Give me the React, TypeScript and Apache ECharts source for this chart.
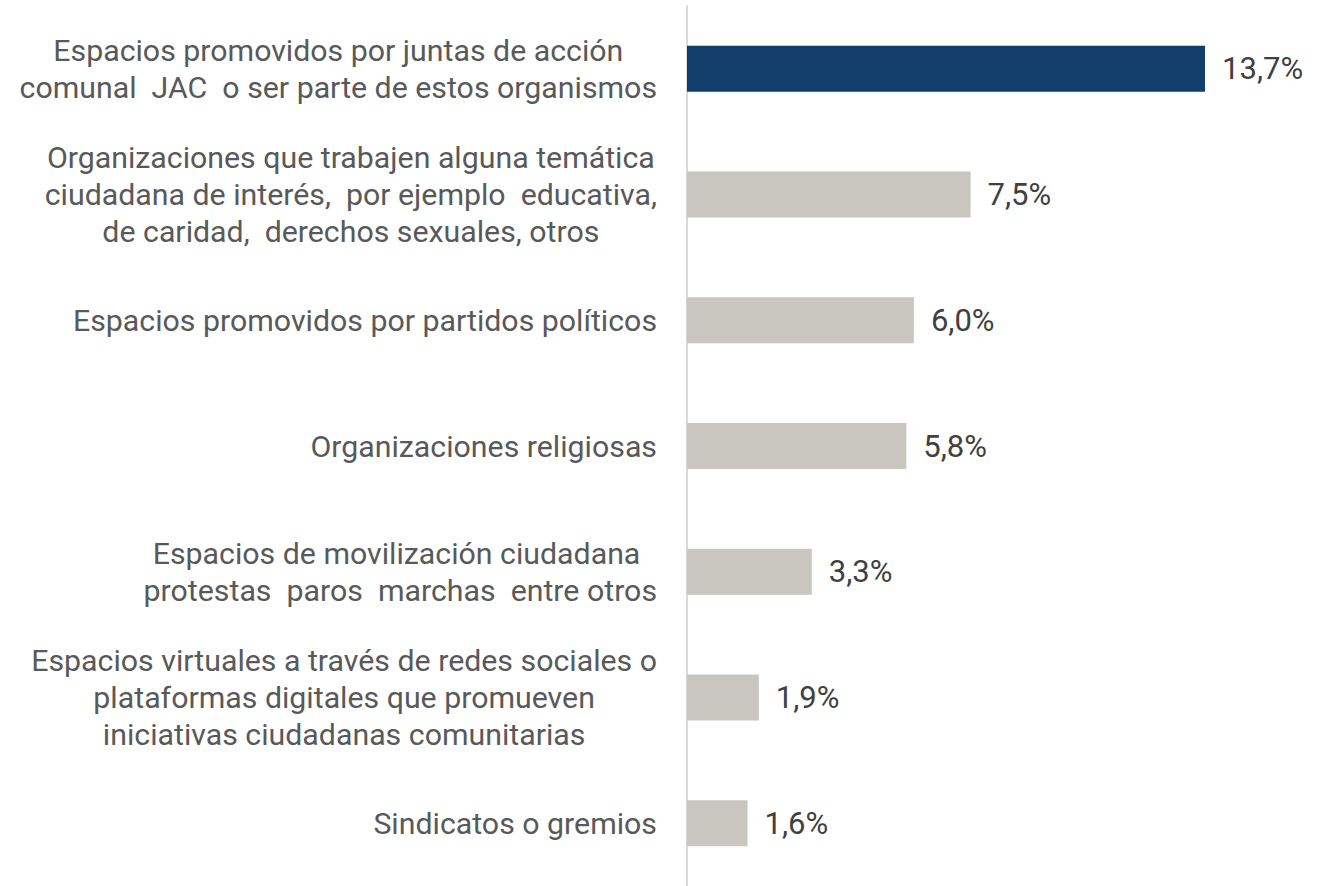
import React, { useEffect, useRef } from "react";
import * as echarts from "echarts";

const categories: string[] = [
  "Espacios promovidos por juntas de acción\ncomunal  JAC  o ser parte de estos organismos",
  "Organizaciones que trabajen alguna temática\nciudadana de interés,  por ejemplo  educativa,\nde caridad,  derechos sexuales, otros",
  "Espacios promovidos por partidos políticos",
  "Organizaciones religiosas",
  "Espacios de movilización ciudadana \nprotestas  paros  marchas  entre otros",
  "Espacios virtuales a través de redes sociales o\nplataformas digitales que promueven\niniciativas ciudadanas comunitarias",
  "Sindicatos o gremios",
];

const values: number[] = [13.7, 7.5, 6.0, 5.8, 3.3, 1.9, 1.6];

const NAVY = "#123E6C";
const GRAY = "#C9C6BF";
const FONT = "Roboto";
const LABEL_SIZE = 30.3;

export default function App() {
  const ref = useRef<HTMLDivElement>(null);

  useEffect(() => {
    if (!ref.current) return;
    const chart = echarts.init(ref.current, null, { renderer: "svg" });
    const maxVal = Math.max(...values);
    chart.setOption({
      animation: false,
      backgroundColor: "#ffffff",
      grid: { left: 687, top: 6, width: 605, height: 882, containLabel: false },
      xAxis: {
        type: "value",
        min: 0,
        max: 16,
        show: false,
        splitLine: { show: false },
      },
      yAxis: {
        type: "category",
        inverse: true,
        data: categories,
        axisLine: { show: true, lineStyle: { color: "#D9D9D9", width: 2 } },
        axisTick: { show: false },
        splitLine: { show: false },
        axisLabel: {
          margin: 30,
          align: "right",
          fontFamily: FONT,
          fontSize: LABEL_SIZE,
          lineHeight: 37,
          color: "#595959",
          formatter: (v: string) =>
            v
              .split("\n")
              .map((line) => `{c|${line}}`)
              .join("\n"),
          rich: {
            c: {
              align: "center",
              fontFamily: FONT,
              fontSize: LABEL_SIZE,
              lineHeight: 37,
              color: "#595959",
            },
          },
        },
      },
      series: [
        {
          type: "bar",
          data: values,
          barWidth: 46,
          itemStyle: {
            color: (p: any) => (p.value === maxVal ? NAVY : GRAY),
          },
          label: {
            show: true,
            position: "right",
            distance: 17,
            fontFamily: FONT,
            fontSize: 31,
            color: "#404040",
            formatter: (p: any) => p.value.toFixed(1).replace(".", ",") + "%",
          },
        },
      ],
    });
    return () => chart.dispose();
  }, []);

  return (
    <div
      ref={ref}
      style={{ position: "fixed", left: 0, top: 0, width: 1337, height: 886 }}
    />
  );
}
